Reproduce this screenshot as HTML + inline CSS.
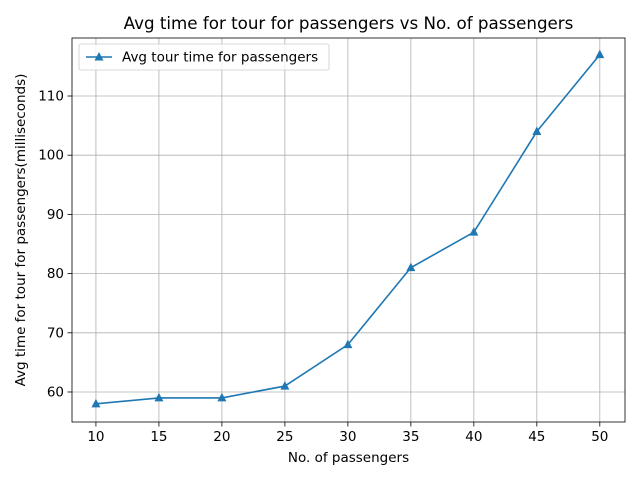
<!DOCTYPE html>
<html><head><meta charset="utf-8"><style>
body{margin:0;background:#fff;}
svg text{font-family:"DejaVu Sans","Liberation Sans",sans-serif;fill:#000;}
</style></head><body>
<svg id="chart" width="640" height="480" xmlns="http://www.w3.org/2000/svg"></svg>
<script>
const categories=[10,15,20,25,30,35,40,45,50];
const seriesValues=[58,59,59,61,68,81,87,104,117];
const xTicks=[10,15,20,25,30,35,40,45,50];
const yTicks=[60,70,80,90,100,110];
const L=72,R=625,T=38,B=422;
const xMin=8.1,xMax=52,yMin=54.93,yMax=119.8;
const xs=v=>L+(v-xMin)/(xMax-xMin)*(R-L);
const ys=v=>B-(v-yMin)/(yMax-yMin)*(B-T);
const svg=document.getElementById('chart');
const NS='http://www.w3.org/2000/svg';
function mk(tag,attrs,parent){const e=document.createElementNS(NS,tag);for(const k in attrs)e.setAttribute(k,attrs[k]);(parent||svg).appendChild(e);return e;}
const grid=mk('g',{});


xTicks.forEach(t=>{const x=xs(t);
 const g=mk('line',{x1:x,x2:x,y1:T,y2:B,stroke:'#b0b0b0','stroke-width':0.8},grid);
 
 const tk=mk('line',{x1:x,x2:x,y1:B,y2:B+4.5,stroke:'#000','stroke-width':0.8});
 
 const tx=mk('text',{x:x,y:B+19,'text-anchor':'middle','font-size':13.5});tx.textContent=t;
 
});
yTicks.forEach(t=>{const y=ys(t);
 const g=mk('line',{x1:L,x2:R,y1:y,y2:y,stroke:'#b0b0b0','stroke-width':0.8},grid);
 
 const tk=mk('line',{x1:L-4.5,x2:L,y1:y,y2:y,stroke:'#000','stroke-width':0.8});
 
 const tx=mk('text',{x:L-8,y:y+4.5,'text-anchor':'end','font-size':13.5});tx.textContent=t;
 
});
const pts=categories.map((c,i)=>xs(c)+','+ys(seriesValues[i])).join(' ');
const line=mk('polyline',{points:pts,fill:'none',stroke:'#1f77b4','stroke-width':1.6});

categories.forEach((c,i)=>{const x=xs(c),y=ys(seriesValues[i]);
 const m=mk('polygon',{points:`${x},${y-5} ${x-4.5},${y+3.5} ${x+4.5},${y+3.5}`,fill:'#1f77b4'});
 
});
const fr=mk('rect',{x:L,y:T,width:R-L,height:B-T,fill:'none',stroke:'#000','stroke-width':0.8});

const title=mk('text',{x:(L+R)/2,y:29,'text-anchor':'middle','font-size':16.7});
title.textContent='Avg time for tour for passengers vs No. of passengers';

const xt=mk('text',{x:(L+R)/2,y:462,'text-anchor':'middle','font-size':13.5});
xt.textContent='No. of passengers';

const yt=mk('text',{x:0,y:0,'text-anchor':'middle','font-size':13.5,transform:`translate(25,${(T+B)/2}) rotate(-90)`});
yt.textContent='Avg time for tour for passengers(milliseconds)';

const lg=mk('g',{});

mk('rect',{x:79,y:44,width:250,height:26,rx:2,fill:'#fff','fill-opacity':0.8,stroke:'#ccc','stroke-width':0.8},lg);
mk('line',{x1:86,x2:112,y1:57,y2:57,stroke:'#1f77b4','stroke-width':1.6},lg);
mk('polygon',{points:'99,52 94.5,60.5 103.5,60.5',fill:'#1f77b4'},lg);
const lt=mk('text',{x:122,y:61.5,'font-size':13.5},lg);lt.textContent='Avg tour time for passengers';

</script>
</body></html>
